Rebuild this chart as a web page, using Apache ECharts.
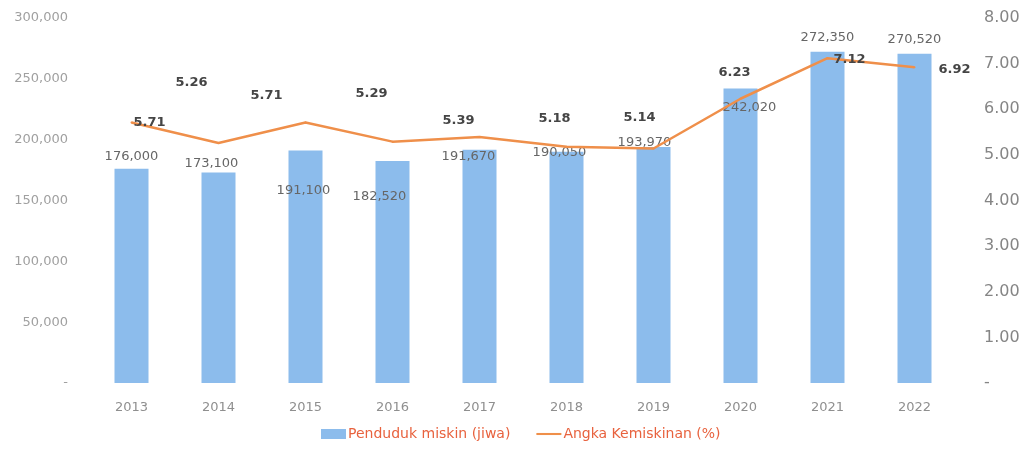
<!DOCTYPE html>
<html>
<head>
<meta charset="utf-8">
<script src="https://cdn.jsdelivr.net/npm/echarts@6/dist/echarts.min.js"></script>
<style>
  html, body { margin: 0; padding: 0; background: #fff; }
  #chart { width: 1028px; height: 452px; }
</style>
</head>
<body>
<div id="chart"></div>
<script>
// data
var years = ['2013', '2014', '2015', '2016', '2017', '2018', '2019', '2020', '2021', '2022'];
var pendudukMiskin = [176000, 173100, 191100, 182520, 191670, 190050, 193970, 242020, 272350, 270520];
var angkaKemiskinan = [5.71, 5.26, 5.71, 5.29, 5.39, 5.18, 5.14, 6.23, 7.12, 6.92];

// label nudges so they sit like in the original (pixels)
var barLabelShift = [[0, -12], [-7, -9], [-2, 40], [-13, 36], [-11, 7], [-7, 1], [-9, -4], [9, 19], [0, -14], [0, -14]];
var lineLabelShift = [[18, 1], [-27, -59], [-39, -26], [-21, -47], [-21, -15], [-12, -27], [-14, -30], [-6, -25], [22, 2], [40, 3]];

(function () {
    var chart = echarts.init(document.getElementById('chart'));
    var font = 'DejaVu Sans';

    function fmtThousand(v) {
        return String(v).replace(/\B(?=(\d{3})+(?!\d))/g, ',');
    }

    var barData = pendudukMiskin.map(function (v, i) {
        return { value: v, label: { offset: barLabelShift[i] } };
    });
    var lineData = angkaKemiskinan.map(function (v, i) {
        return { value: v, label: { offset: lineLabelShift[i] } };
    });

    var option = {
        animation: false,
        textStyle: { fontFamily: font },
        grid: { left: 88, right: 70, top: 18, bottom: 69 },
        legend: {
            bottom: 6,
            left: 316,
            itemGap: 26,
            itemWidth: 25,
            itemHeight: 10,
            textStyle: { color: '#e8623e', fontSize: 14, fontFamily: font, padding: [0, 0, 0, -3] },
            data: [
                { name: 'Penduduk miskin (jiwa)', icon: 'rect' },
                { name: 'Angka Kemiskinan (%)', icon: 'path://M0,0 L24,0 L24,2 L0,2 Z', itemStyle: { color: '#ef8f4a', opacity: 1 } }
            ]
        },
        xAxis: {
            type: 'category',
            data: years,
            axisLine: { show: false },
            axisTick: { show: false },
            axisLabel: { color: '#8f8f8f', fontSize: 13, margin: 18 }
        },
        yAxis: [
            {
                type: 'value',
                min: 0, max: 300000, interval: 50000,
                splitLine: { show: false },
                axisLine: { show: false },
                axisTick: { show: false },
                axisLabel: {
                    color: '#a0a0a0', fontSize: 13, margin: 20,
                    formatter: function (v) { return v === 0 ? '-' : fmtThousand(v); }
                }
            },
            {
                type: 'value',
                min: 0, max: 8, interval: 1,
                splitLine: { show: false },
                axisLine: { show: false },
                axisTick: { show: false },
                axisLabel: {
                    color: '#858585', fontSize: 16, margin: 26,
                    formatter: function (v) { return v === 0 ? '-' : v.toFixed(2); }
                }
            }
        ],
        series: [
            {
                name: 'Penduduk miskin (jiwa)',
                type: 'bar',
                barWidth: 34,
                data: barData,
                itemStyle: { color: '#8cbcec' },
                label: {
                    show: true,
                    position: 'top',
                    distance: 0,
                    align: 'center',
                    verticalAlign: 'middle',
                    color: '#666666',
                    fontSize: 13,
                    formatter: function (p) { return fmtThousand(p.value); }
                }
            },
            {
                name: 'Angka Kemiskinan (%)',
                type: 'line',
                yAxisIndex: 1,
                data: lineData,
                symbol: 'circle',
                symbolSize: 2,
                showSymbol: true,
                lineStyle: { color: '#ef8f4a', width: 2.5 },
                itemStyle: { color: '#ef8f4a' },
                label: {
                    show: true,
                    position: 'top',
                    distance: 0,
                    align: 'center',
                    verticalAlign: 'middle',
                    color: '#454545',
                    fontWeight: 'bold',
                    fontSize: 13,
                    formatter: function (p) { return p.value.toFixed(2); }
                }
            }
        ]
    };
    chart.setOption(option);
})();
</script>
</body>
</html>
